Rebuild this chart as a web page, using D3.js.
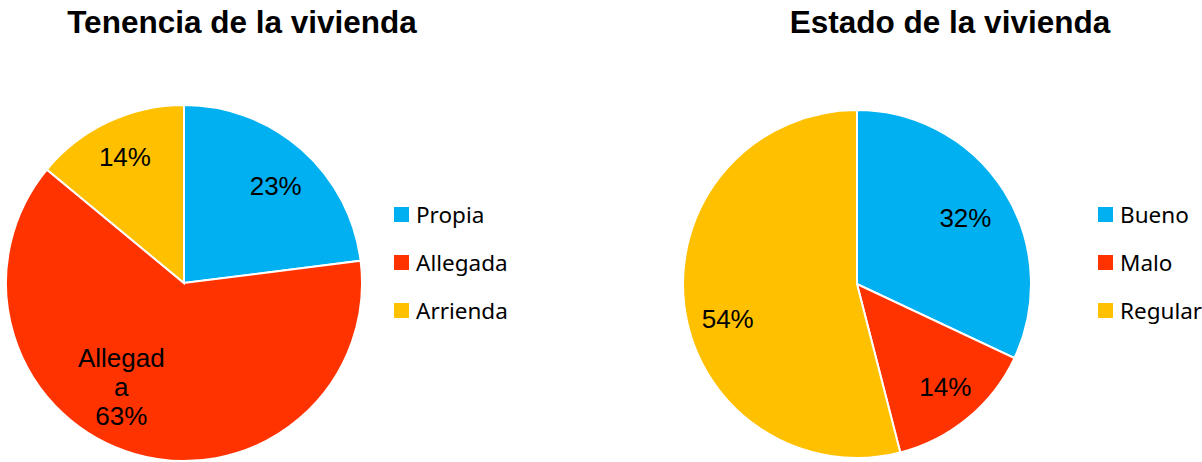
<!DOCTYPE html>
<html>
<head>
<meta charset="utf-8">
<script src="https://cdn.jsdelivr.net/npm/d3@7"></script>
<style>
  body { margin: 0; background: #fff; }
  svg { display: block; }
</style>
</head>
<body>
<div id="chart"></div>
<script>
// data
var tenenciaLabels = ["Propia", "Allegada", "Arrienda"];
var tenenciaValues = [23, 63, 14];
var estadoLabels = ["Bueno", "Malo", "Regular"];
var estadoValues = [32, 14, 54];
var sliceColors = ["#00B0F0", "#FF3300", "#FFC000"];

var width = 1202;
var height = 462;

var svg = d3.select("#chart")
    .append("svg")
    .attr("width", width)
    .attr("height", height);

var color = d3.scaleOrdinal().range(sliceColors);

var pie = d3.pie().sort(null).value(function (d) { return d.value; });

// one pie + legend
function drawPie(cfg) {
    var data = cfg.labels.map(function (l, i) { return { label: l, value: cfg.values[i] }; });
    color.domain(cfg.labels);

    svg.append("text")
        .attr("x", cfg.titleX)
        .attr("y", 33)
        .attr("text-anchor", "middle")
        .style("font-family", "Liberation Sans, Arial, sans-serif")
        .style("font-weight", "bold")
        .style("font-size", "31.5px")
        .text(cfg.title);

    var g = svg.append("g")
        .attr("transform", "translate(" + cfg.cx + "," + cfg.cy + ")");

    var arc = d3.arc().innerRadius(0).outerRadius(cfg.r);

    var arcs = pie(data);

    g.selectAll("path")
        .data(arcs)
        .enter()
        .append("path")
        .attr("d", arc)
        .attr("fill", function (d) { return color(d.data.label); })
        .attr("stroke", "#fff")
        .attr("stroke-width", 2);

    // percentage labels
    arcs.forEach(function (d, i) {
        var mid = (d.startAngle + d.endAngle) / 2 + (cfg.angleNudge[i] || 0) * Math.PI / 180;
        var lr = cfg.r * cfg.labelRatio[i];
        var x = Math.sin(mid) * lr;
        var y = -Math.cos(mid) * lr;
        var lines = cfg.labelLines[i] ? cfg.labelLines[i].concat([d.data.value + "%"]) : [d.data.value + "%"];
        var t = g.append("text")
            .attr("text-anchor", "middle")
            .style("font-family", "Liberation Sans, Arial, sans-serif")
            .style("font-size", "26px")
            .attr("fill", "#000");
        var lh = 29;
        var y0 = y - (lines.length - 1) * lh / 2 + 9;
        lines.forEach(function (ln, k) {
            t.append("tspan").attr("x", x).attr("y", y0 + k * lh).text(ln);
        });
    });

    // legend
    var lg = svg.append("g")
        .attr("transform", "translate(" + cfg.legendX + "," + 215 + ")");
    var item = lg.selectAll("g")
        .data(cfg.labels)
        .enter()
        .append("g")
        .attr("transform", function (d, i) { return "translate(0," + (i * 48) + ")"; });
    item.append("rect")
        .attr("x", 0)
        .attr("y", -8)
        .attr("width", 15)
        .attr("height", 15)
        .attr("fill", function (d) { return color(d); });
    item.append("text")
        .attr("x", 22)
        .attr("y", 8)
        .style("font-family", "Noto Sans, Open Sans, sans-serif")
        .style("font-size", "22.5px")
        .attr("fill", "#000")
        .text(function (d) { return d; });
}

drawPie({
    title: "Tenencia de la vivienda",
    titleX: 242,
    labels: tenenciaLabels,
    values: tenenciaValues,
    cx: 184, cy: 283, r: 178,
    labelRatio: [0.75, 0.68, 0.78],
    angleNudge: [2, 15, 0],
    labelLines: [null, ["Allegad", "a"], null],
    legendX: 394
});

drawPie({
    title: "Estado de la vivienda",
    titleX: 950,
    labels: estadoLabels,
    values: estadoValues,
    cx: 857, cy: 284, r: 174,
    labelRatio: [0.73, 0.78, 0.77],
    angleNudge: [1, -1, -8],
    labelLines: [null, null, null],
    legendX: 1098
});
</script>
</body>
</html>
